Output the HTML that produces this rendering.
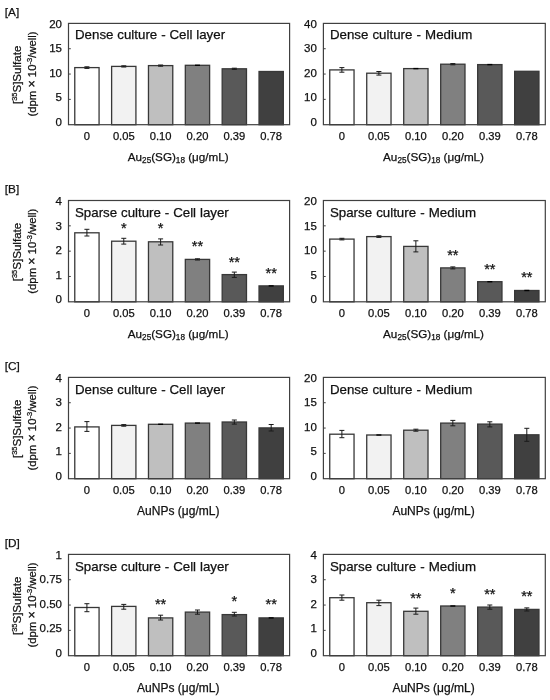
<!DOCTYPE html><html><head><meta charset="utf-8"><style>html,body{margin:0;padding:0;background:#fff;}svg{display:block;filter:grayscale(100%) blur(0.35px);} text{stroke:#111;stroke-width:0.25px;}</style></head><body>
<svg width="550" height="700" viewBox="0 0 550 700" font-family='"Liberation Sans", sans-serif'>
<rect width="550" height="700" fill="#fff"/>
<text x="4.8" y="15.5" font-size="11.8" fill="#111">[A]</text>
<g transform="translate(0,74.0) rotate(-90)">
<text x="-0.8" y="20.6" font-size="11.6" fill="#111" text-anchor="middle">[<tspan baseline-shift="4" font-size="7.4">35</tspan>S]Sulfate</text>
<text x="0" y="36.4" font-size="11.3" fill="#111" text-anchor="middle">(dpm <tspan font-size="12.5">×</tspan> 10<tspan baseline-shift="4" font-size="7.5">-3</tspan>/well)</text>
</g>
<text x="4.8" y="192.6" font-size="11.8" fill="#111">[B]</text>
<g transform="translate(0,251.2) rotate(-90)">
<text x="-0.8" y="20.6" font-size="11.6" fill="#111" text-anchor="middle">[<tspan baseline-shift="4" font-size="7.4">35</tspan>S]Sulfate</text>
<text x="0" y="36.4" font-size="11.3" fill="#111" text-anchor="middle">(dpm <tspan font-size="12.5">×</tspan> 10<tspan baseline-shift="4" font-size="7.5">-3</tspan>/well)</text>
</g>
<text x="4.8" y="369.5" font-size="11.8" fill="#111">[C]</text>
<g transform="translate(0,428.0) rotate(-90)">
<text x="-0.8" y="20.6" font-size="11.6" fill="#111" text-anchor="middle">[<tspan baseline-shift="4" font-size="7.4">35</tspan>S]Sulfate</text>
<text x="0" y="36.4" font-size="11.3" fill="#111" text-anchor="middle">(dpm <tspan font-size="12.5">×</tspan> 10<tspan baseline-shift="4" font-size="7.5">-3</tspan>/well)</text>
</g>
<text x="4.8" y="546.5" font-size="11.8" fill="#111">[D]</text>
<g transform="translate(0,605.0) rotate(-90)">
<text x="-0.8" y="20.6" font-size="11.6" fill="#111" text-anchor="middle">[<tspan baseline-shift="4" font-size="7.4">35</tspan>S]Sulfate</text>
<text x="0" y="36.4" font-size="11.3" fill="#111" text-anchor="middle">(dpm <tspan font-size="12.5">×</tspan> 10<tspan baseline-shift="4" font-size="7.5">-3</tspan>/well)</text>
</g>
<rect x="74.77" y="67.60" width="24.30" height="57.10" fill="#ffffff" stroke="#383838" stroke-width="1.3"/>
<path d="M86.92 66.80V68.40M84.42 66.80H89.42M84.42 68.40H89.42" stroke="#1a1a1a" stroke-width="1" fill="none"/>
<text x="86.92" y="140.3" font-size="11.2" fill="#111" text-anchor="middle">0</text>
<rect x="111.62" y="66.40" width="24.30" height="58.30" fill="#f2f2f2" stroke="#383838" stroke-width="1.3"/>
<path d="M123.78 65.80V67.00M121.28 65.80H126.28M121.28 67.00H126.28" stroke="#1a1a1a" stroke-width="1" fill="none"/>
<text x="123.78" y="140.3" font-size="11.2" fill="#111" text-anchor="middle">0.05</text>
<rect x="148.47" y="65.60" width="24.30" height="59.10" fill="#bfbfbf" stroke="#383838" stroke-width="1.3"/>
<path d="M160.62 65.00V66.20M158.12 65.00H163.12M158.12 66.20H163.12" stroke="#1a1a1a" stroke-width="1" fill="none"/>
<text x="160.62" y="140.3" font-size="11.2" fill="#111" text-anchor="middle">0.10</text>
<rect x="185.32" y="65.30" width="24.30" height="59.40" fill="#808080" stroke="#383838" stroke-width="1.3"/>
<path d="M194.97 65.30H199.97" stroke="#000" stroke-width="1.4" fill="none"/>
<text x="197.47" y="140.3" font-size="11.2" fill="#111" text-anchor="middle">0.20</text>
<rect x="222.18" y="68.80" width="24.30" height="55.90" fill="#595959" stroke="#383838" stroke-width="1.3"/>
<path d="M234.33 68.20V69.40M231.83 68.20H236.83M231.83 69.40H236.83" stroke="#1a1a1a" stroke-width="1" fill="none"/>
<text x="234.33" y="140.3" font-size="11.2" fill="#111" text-anchor="middle">0.39</text>
<rect x="259.03" y="71.50" width="24.30" height="53.20" fill="#404040" stroke="#383838" stroke-width="1.3"/>
<text x="271.18" y="140.3" font-size="11.2" fill="#111" text-anchor="middle">0.78</text>
<rect x="68.50" y="23.40" width="221.10" height="101.30" fill="none" stroke="#404040" stroke-width="1.2"/>
<text x="62.00" y="125.95" font-size="11.5" fill="#111" text-anchor="end">0</text>
<path d="M68.50 99.37H70.80" stroke="#404040" stroke-width="1"/>
<text x="62.00" y="101.45" font-size="11.5" fill="#111" text-anchor="end">5</text>
<path d="M68.50 74.05H70.80" stroke="#404040" stroke-width="1"/>
<text x="62.00" y="76.95" font-size="11.5" fill="#111" text-anchor="end">10</text>
<path d="M68.50 48.72H70.80" stroke="#404040" stroke-width="1"/>
<text x="62.00" y="52.45" font-size="11.5" fill="#111" text-anchor="end">15</text>
<text x="62.00" y="27.95" font-size="11.5" fill="#111" text-anchor="end">20</text>
<text x="75.00" y="39.15" word-spacing="0.2" font-size="13.3" fill="#111">Dense culture - Cell layer</text>
<text x="178.25" y="161.2" font-size="11.7" fill="#111" text-anchor="middle">Au<tspan baseline-shift="-2.2" font-size="8.2">25</tspan>(SG)<tspan baseline-shift="-2.2" font-size="8.2">18</tspan> (μg/mL)</text>
<rect x="329.74" y="69.90" width="24.30" height="54.80" fill="#ffffff" stroke="#383838" stroke-width="1.3"/>
<path d="M341.89 67.60V72.20M339.39 67.60H344.39M339.39 72.20H344.39" stroke="#1a1a1a" stroke-width="1" fill="none"/>
<text x="341.89" y="140.3" font-size="11.2" fill="#111" text-anchor="middle">0</text>
<rect x="366.73" y="73.20" width="24.30" height="51.50" fill="#f2f2f2" stroke="#383838" stroke-width="1.3"/>
<path d="M378.88 71.50V75.10M376.38 71.50H381.38M376.38 75.10H381.38" stroke="#1a1a1a" stroke-width="1" fill="none"/>
<text x="378.88" y="140.3" font-size="11.2" fill="#111" text-anchor="middle">0.05</text>
<rect x="403.71" y="68.60" width="24.30" height="56.10" fill="#bfbfbf" stroke="#383838" stroke-width="1.3"/>
<path d="M413.36 68.60H418.36" stroke="#000" stroke-width="1.4" fill="none"/>
<text x="415.86" y="140.3" font-size="11.2" fill="#111" text-anchor="middle">0.10</text>
<rect x="440.69" y="64.20" width="24.30" height="60.50" fill="#808080" stroke="#383838" stroke-width="1.3"/>
<path d="M452.84 63.60V64.80M450.34 63.60H455.34M450.34 64.80H455.34" stroke="#1a1a1a" stroke-width="1" fill="none"/>
<text x="452.84" y="140.3" font-size="11.2" fill="#111" text-anchor="middle">0.20</text>
<rect x="477.67" y="64.60" width="24.30" height="60.10" fill="#595959" stroke="#383838" stroke-width="1.3"/>
<path d="M487.32 64.60H492.32" stroke="#000" stroke-width="1.4" fill="none"/>
<text x="489.82" y="140.3" font-size="11.2" fill="#111" text-anchor="middle">0.39</text>
<rect x="514.66" y="71.30" width="24.30" height="53.40" fill="#404040" stroke="#383838" stroke-width="1.3"/>
<text x="526.81" y="140.3" font-size="11.2" fill="#111" text-anchor="middle">0.78</text>
<rect x="323.40" y="23.40" width="221.90" height="101.30" fill="none" stroke="#404040" stroke-width="1.2"/>
<text x="316.90" y="125.95" font-size="11.5" fill="#111" text-anchor="end">0</text>
<path d="M323.40 99.37H325.70" stroke="#404040" stroke-width="1"/>
<text x="316.90" y="101.45" font-size="11.5" fill="#111" text-anchor="end">10</text>
<path d="M323.40 74.05H325.70" stroke="#404040" stroke-width="1"/>
<text x="316.90" y="76.95" font-size="11.5" fill="#111" text-anchor="end">20</text>
<path d="M323.40 48.72H325.70" stroke="#404040" stroke-width="1"/>
<text x="316.90" y="52.45" font-size="11.5" fill="#111" text-anchor="end">30</text>
<text x="316.90" y="27.95" font-size="11.5" fill="#111" text-anchor="end">40</text>
<text x="329.90" y="39.15" word-spacing="0.45" font-size="13.3" fill="#111">Dense culture - Medium</text>
<text x="433.55" y="161.2" font-size="11.7" fill="#111" text-anchor="middle">Au<tspan baseline-shift="-2.2" font-size="8.2">25</tspan>(SG)<tspan baseline-shift="-2.2" font-size="8.2">18</tspan> (μg/mL)</text>
<rect x="74.77" y="232.80" width="24.30" height="69.00" fill="#ffffff" stroke="#383838" stroke-width="1.3"/>
<path d="M86.92 229.30V236.00M84.42 229.30H89.42M84.42 236.00H89.42" stroke="#1a1a1a" stroke-width="1" fill="none"/>
<text x="86.92" y="317.4" font-size="11.2" fill="#111" text-anchor="middle">0</text>
<rect x="111.62" y="241.20" width="24.30" height="60.60" fill="#f2f2f2" stroke="#383838" stroke-width="1.3"/>
<path d="M123.78 238.30V244.10M121.28 238.30H126.28M121.28 244.10H126.28" stroke="#1a1a1a" stroke-width="1" fill="none"/>
<text x="123.78" y="317.4" font-size="11.2" fill="#111" text-anchor="middle">0.05</text>
<text x="123.78" y="233.4" font-size="14.6" fill="#111" text-anchor="middle">*</text>
<rect x="148.47" y="241.80" width="24.30" height="60.00" fill="#bfbfbf" stroke="#383838" stroke-width="1.3"/>
<path d="M160.62 238.90V245.00M158.12 238.90H163.12M158.12 245.00H163.12" stroke="#1a1a1a" stroke-width="1" fill="none"/>
<text x="160.62" y="317.4" font-size="11.2" fill="#111" text-anchor="middle">0.10</text>
<text x="160.62" y="233.4" font-size="14.6" fill="#111" text-anchor="middle">*</text>
<rect x="185.32" y="259.40" width="24.30" height="42.40" fill="#808080" stroke="#383838" stroke-width="1.3"/>
<path d="M197.47 258.80V260.00M194.97 258.80H199.97M194.97 260.00H199.97" stroke="#1a1a1a" stroke-width="1" fill="none"/>
<text x="197.47" y="317.4" font-size="11.2" fill="#111" text-anchor="middle">0.20</text>
<text x="197.47" y="251.4" font-size="14.6" fill="#111" text-anchor="middle">**</text>
<rect x="222.18" y="274.60" width="24.30" height="27.20" fill="#595959" stroke="#383838" stroke-width="1.3"/>
<path d="M234.33 272.10V277.40M231.83 272.10H236.83M231.83 277.40H236.83" stroke="#1a1a1a" stroke-width="1" fill="none"/>
<text x="234.33" y="317.4" font-size="11.2" fill="#111" text-anchor="middle">0.39</text>
<text x="234.33" y="266.5" font-size="14.6" fill="#111" text-anchor="middle">**</text>
<rect x="259.03" y="285.90" width="24.30" height="15.90" fill="#404040" stroke="#383838" stroke-width="1.3"/>
<path d="M268.68 285.90H273.68" stroke="#000" stroke-width="1.4" fill="none"/>
<text x="271.18" y="317.4" font-size="11.2" fill="#111" text-anchor="middle">0.78</text>
<text x="271.18" y="278.1" font-size="14.6" fill="#111" text-anchor="middle">**</text>
<rect x="68.50" y="200.50" width="221.10" height="101.30" fill="none" stroke="#404040" stroke-width="1.2"/>
<text x="62.00" y="303.05" font-size="11.5" fill="#111" text-anchor="end">0</text>
<path d="M68.50 276.48H70.80" stroke="#404040" stroke-width="1"/>
<text x="62.00" y="278.55" font-size="11.5" fill="#111" text-anchor="end">1</text>
<path d="M68.50 251.15H70.80" stroke="#404040" stroke-width="1"/>
<text x="62.00" y="254.05" font-size="11.5" fill="#111" text-anchor="end">2</text>
<path d="M68.50 225.83H70.80" stroke="#404040" stroke-width="1"/>
<text x="62.00" y="229.55" font-size="11.5" fill="#111" text-anchor="end">3</text>
<text x="62.00" y="205.05" font-size="11.5" fill="#111" text-anchor="end">4</text>
<text x="75.00" y="216.50" word-spacing="0.2" font-size="13.3" fill="#111">Sparse culture - Cell layer</text>
<text x="178.25" y="338.3" font-size="11.7" fill="#111" text-anchor="middle">Au<tspan baseline-shift="-2.2" font-size="8.2">25</tspan>(SG)<tspan baseline-shift="-2.2" font-size="8.2">18</tspan> (μg/mL)</text>
<rect x="329.74" y="239.10" width="24.30" height="62.70" fill="#ffffff" stroke="#383838" stroke-width="1.3"/>
<path d="M341.89 238.30V239.90M339.39 238.30H344.39M339.39 239.90H344.39" stroke="#1a1a1a" stroke-width="1" fill="none"/>
<text x="341.89" y="317.4" font-size="11.2" fill="#111" text-anchor="middle">0</text>
<rect x="366.73" y="236.60" width="24.30" height="65.20" fill="#f2f2f2" stroke="#383838" stroke-width="1.3"/>
<path d="M378.88 235.80V237.40M376.38 235.80H381.38M376.38 237.40H381.38" stroke="#1a1a1a" stroke-width="1" fill="none"/>
<text x="378.88" y="317.4" font-size="11.2" fill="#111" text-anchor="middle">0.05</text>
<rect x="403.71" y="246.40" width="24.30" height="55.40" fill="#bfbfbf" stroke="#383838" stroke-width="1.3"/>
<path d="M415.86 240.80V251.90M413.36 240.80H418.36M413.36 251.90H418.36" stroke="#1a1a1a" stroke-width="1" fill="none"/>
<text x="415.86" y="317.4" font-size="11.2" fill="#111" text-anchor="middle">0.10</text>
<rect x="440.69" y="267.90" width="24.30" height="33.90" fill="#808080" stroke="#383838" stroke-width="1.3"/>
<path d="M452.84 266.90V268.90M450.34 266.90H455.34M450.34 268.90H455.34" stroke="#1a1a1a" stroke-width="1" fill="none"/>
<text x="452.84" y="317.4" font-size="11.2" fill="#111" text-anchor="middle">0.20</text>
<text x="452.84" y="259.6" font-size="14.6" fill="#111" text-anchor="middle">**</text>
<rect x="477.67" y="281.70" width="24.30" height="20.10" fill="#595959" stroke="#383838" stroke-width="1.3"/>
<path d="M487.32 281.70H492.32" stroke="#000" stroke-width="1.4" fill="none"/>
<text x="489.82" y="317.4" font-size="11.2" fill="#111" text-anchor="middle">0.39</text>
<text x="489.82" y="273.7" font-size="14.6" fill="#111" text-anchor="middle">**</text>
<rect x="514.66" y="290.50" width="24.30" height="11.30" fill="#404040" stroke="#383838" stroke-width="1.3"/>
<path d="M524.31 290.50H529.31" stroke="#000" stroke-width="1.4" fill="none"/>
<text x="526.81" y="317.4" font-size="11.2" fill="#111" text-anchor="middle">0.78</text>
<text x="526.81" y="282.0" font-size="14.6" fill="#111" text-anchor="middle">**</text>
<rect x="323.40" y="200.50" width="221.90" height="101.30" fill="none" stroke="#404040" stroke-width="1.2"/>
<text x="316.90" y="303.05" font-size="11.5" fill="#111" text-anchor="end">0</text>
<path d="M323.40 276.48H325.70" stroke="#404040" stroke-width="1"/>
<text x="316.90" y="278.55" font-size="11.5" fill="#111" text-anchor="end">5</text>
<path d="M323.40 251.15H325.70" stroke="#404040" stroke-width="1"/>
<text x="316.90" y="254.05" font-size="11.5" fill="#111" text-anchor="end">10</text>
<path d="M323.40 225.83H325.70" stroke="#404040" stroke-width="1"/>
<text x="316.90" y="229.55" font-size="11.5" fill="#111" text-anchor="end">15</text>
<text x="316.90" y="205.05" font-size="11.5" fill="#111" text-anchor="end">20</text>
<text x="329.90" y="216.50" word-spacing="0.45" font-size="13.3" fill="#111">Sparse culture - Medium</text>
<text x="433.55" y="338.3" font-size="11.7" fill="#111" text-anchor="middle">Au<tspan baseline-shift="-2.2" font-size="8.2">25</tspan>(SG)<tspan baseline-shift="-2.2" font-size="8.2">18</tspan> (μg/mL)</text>
<rect x="74.77" y="426.90" width="24.30" height="51.80" fill="#ffffff" stroke="#383838" stroke-width="1.3"/>
<path d="M86.92 421.60V431.40M84.42 421.60H89.42M84.42 431.40H89.42" stroke="#1a1a1a" stroke-width="1" fill="none"/>
<text x="86.92" y="494.3" font-size="11.2" fill="#111" text-anchor="middle">0</text>
<rect x="111.62" y="425.40" width="24.30" height="53.30" fill="#f2f2f2" stroke="#383838" stroke-width="1.3"/>
<path d="M123.78 424.60V426.20M121.28 424.60H126.28M121.28 426.20H126.28" stroke="#1a1a1a" stroke-width="1" fill="none"/>
<text x="123.78" y="494.3" font-size="11.2" fill="#111" text-anchor="middle">0.05</text>
<rect x="148.47" y="424.30" width="24.30" height="54.40" fill="#bfbfbf" stroke="#383838" stroke-width="1.3"/>
<path d="M158.12 424.30H163.12" stroke="#000" stroke-width="1.4" fill="none"/>
<text x="160.62" y="494.3" font-size="11.2" fill="#111" text-anchor="middle">0.10</text>
<rect x="185.32" y="423.10" width="24.30" height="55.60" fill="#808080" stroke="#383838" stroke-width="1.3"/>
<path d="M194.97 423.10H199.97" stroke="#000" stroke-width="1.4" fill="none"/>
<text x="197.47" y="494.3" font-size="11.2" fill="#111" text-anchor="middle">0.20</text>
<rect x="222.18" y="422.00" width="24.30" height="56.70" fill="#595959" stroke="#383838" stroke-width="1.3"/>
<path d="M234.33 420.00V424.10M231.83 420.00H236.83M231.83 424.10H236.83" stroke="#1a1a1a" stroke-width="1" fill="none"/>
<text x="234.33" y="494.3" font-size="11.2" fill="#111" text-anchor="middle">0.39</text>
<rect x="259.03" y="427.90" width="24.30" height="50.80" fill="#404040" stroke="#383838" stroke-width="1.3"/>
<path d="M271.18 424.50V431.00M268.68 424.50H273.68M268.68 431.00H273.68" stroke="#1a1a1a" stroke-width="1" fill="none"/>
<text x="271.18" y="494.3" font-size="11.2" fill="#111" text-anchor="middle">0.78</text>
<rect x="68.50" y="377.40" width="221.10" height="101.30" fill="none" stroke="#404040" stroke-width="1.2"/>
<text x="62.00" y="479.95" font-size="11.5" fill="#111" text-anchor="end">0</text>
<path d="M68.50 453.38H70.80" stroke="#404040" stroke-width="1"/>
<text x="62.00" y="455.45" font-size="11.5" fill="#111" text-anchor="end">1</text>
<path d="M68.50 428.05H70.80" stroke="#404040" stroke-width="1"/>
<text x="62.00" y="430.95" font-size="11.5" fill="#111" text-anchor="end">2</text>
<path d="M68.50 402.73H70.80" stroke="#404040" stroke-width="1"/>
<text x="62.00" y="406.45" font-size="11.5" fill="#111" text-anchor="end">3</text>
<text x="62.00" y="381.95" font-size="11.5" fill="#111" text-anchor="end">4</text>
<text x="75.00" y="393.60" word-spacing="0.2" font-size="13.3" fill="#111">Dense culture - Cell layer</text>
<text x="178.25" y="515.2" font-size="12.0" fill="#111" text-anchor="middle">AuNPs (μg/mL)</text>
<rect x="329.74" y="434.20" width="24.30" height="44.50" fill="#ffffff" stroke="#383838" stroke-width="1.3"/>
<path d="M341.89 430.40V437.70M339.39 430.40H344.39M339.39 437.70H344.39" stroke="#1a1a1a" stroke-width="1" fill="none"/>
<text x="341.89" y="494.3" font-size="11.2" fill="#111" text-anchor="middle">0</text>
<rect x="366.73" y="435.00" width="24.30" height="43.70" fill="#f2f2f2" stroke="#383838" stroke-width="1.3"/>
<path d="M376.38 435.00H381.38" stroke="#000" stroke-width="1.4" fill="none"/>
<text x="378.88" y="494.3" font-size="11.2" fill="#111" text-anchor="middle">0.05</text>
<rect x="403.71" y="430.20" width="24.30" height="48.50" fill="#bfbfbf" stroke="#383838" stroke-width="1.3"/>
<path d="M415.86 429.20V431.20M413.36 429.20H418.36M413.36 431.20H418.36" stroke="#1a1a1a" stroke-width="1" fill="none"/>
<text x="415.86" y="494.3" font-size="11.2" fill="#111" text-anchor="middle">0.10</text>
<rect x="440.69" y="423.10" width="24.30" height="55.60" fill="#808080" stroke="#383838" stroke-width="1.3"/>
<path d="M452.84 420.40V425.80M450.34 420.40H455.34M450.34 425.80H455.34" stroke="#1a1a1a" stroke-width="1" fill="none"/>
<text x="452.84" y="494.3" font-size="11.2" fill="#111" text-anchor="middle">0.20</text>
<rect x="477.67" y="424.10" width="24.30" height="54.60" fill="#595959" stroke="#383838" stroke-width="1.3"/>
<path d="M489.82 421.80V426.90M487.32 421.80H492.32M487.32 426.90H492.32" stroke="#1a1a1a" stroke-width="1" fill="none"/>
<text x="489.82" y="494.3" font-size="11.2" fill="#111" text-anchor="middle">0.39</text>
<rect x="514.66" y="434.80" width="24.30" height="43.90" fill="#404040" stroke="#383838" stroke-width="1.3"/>
<path d="M526.81 428.30V441.30M524.31 428.30H529.31M524.31 441.30H529.31" stroke="#1a1a1a" stroke-width="1" fill="none"/>
<text x="526.81" y="494.3" font-size="11.2" fill="#111" text-anchor="middle">0.78</text>
<rect x="323.40" y="377.40" width="221.90" height="101.30" fill="none" stroke="#404040" stroke-width="1.2"/>
<text x="316.90" y="479.95" font-size="11.5" fill="#111" text-anchor="end">0</text>
<path d="M323.40 453.38H325.70" stroke="#404040" stroke-width="1"/>
<text x="316.90" y="455.45" font-size="11.5" fill="#111" text-anchor="end">5</text>
<path d="M323.40 428.05H325.70" stroke="#404040" stroke-width="1"/>
<text x="316.90" y="430.95" font-size="11.5" fill="#111" text-anchor="end">10</text>
<path d="M323.40 402.73H325.70" stroke="#404040" stroke-width="1"/>
<text x="316.90" y="406.45" font-size="11.5" fill="#111" text-anchor="end">15</text>
<text x="316.90" y="381.95" font-size="11.5" fill="#111" text-anchor="end">20</text>
<text x="329.90" y="393.60" word-spacing="0.45" font-size="13.3" fill="#111">Dense culture - Medium</text>
<text x="433.55" y="515.2" font-size="12.0" fill="#111" text-anchor="middle">AuNPs (μg/mL)</text>
<rect x="74.77" y="607.50" width="24.30" height="48.20" fill="#ffffff" stroke="#383838" stroke-width="1.3"/>
<path d="M86.92 603.70V611.70M84.42 603.70H89.42M84.42 611.70H89.42" stroke="#1a1a1a" stroke-width="1" fill="none"/>
<text x="86.92" y="671.3" font-size="11.2" fill="#111" text-anchor="middle">0</text>
<rect x="111.62" y="606.40" width="24.30" height="49.30" fill="#f2f2f2" stroke="#383838" stroke-width="1.3"/>
<path d="M123.78 604.40V609.20M121.28 604.40H126.28M121.28 609.20H126.28" stroke="#1a1a1a" stroke-width="1" fill="none"/>
<text x="123.78" y="671.3" font-size="11.2" fill="#111" text-anchor="middle">0.05</text>
<rect x="148.47" y="617.90" width="24.30" height="37.80" fill="#bfbfbf" stroke="#383838" stroke-width="1.3"/>
<path d="M160.62 615.20V620.00M158.12 615.20H163.12M158.12 620.00H163.12" stroke="#1a1a1a" stroke-width="1" fill="none"/>
<text x="160.62" y="671.3" font-size="11.2" fill="#111" text-anchor="middle">0.10</text>
<text x="160.62" y="609.3" font-size="14.6" fill="#111" text-anchor="middle">**</text>
<rect x="185.32" y="612.10" width="24.30" height="43.60" fill="#808080" stroke="#383838" stroke-width="1.3"/>
<path d="M197.47 610.00V614.20M194.97 610.00H199.97M194.97 614.20H199.97" stroke="#1a1a1a" stroke-width="1" fill="none"/>
<text x="197.47" y="671.3" font-size="11.2" fill="#111" text-anchor="middle">0.20</text>
<rect x="222.18" y="614.60" width="24.30" height="41.10" fill="#595959" stroke="#383838" stroke-width="1.3"/>
<path d="M234.33 612.30V616.00M231.83 612.30H236.83M231.83 616.00H236.83" stroke="#1a1a1a" stroke-width="1" fill="none"/>
<text x="234.33" y="671.3" font-size="11.2" fill="#111" text-anchor="middle">0.39</text>
<text x="234.33" y="605.9" font-size="14.6" fill="#111" text-anchor="middle">*</text>
<rect x="259.03" y="617.90" width="24.30" height="37.80" fill="#404040" stroke="#383838" stroke-width="1.3"/>
<path d="M268.68 617.90H273.68" stroke="#000" stroke-width="1.4" fill="none"/>
<text x="271.18" y="671.3" font-size="11.2" fill="#111" text-anchor="middle">0.78</text>
<text x="271.18" y="609.4" font-size="14.6" fill="#111" text-anchor="middle">**</text>
<rect x="68.50" y="554.40" width="221.10" height="101.30" fill="none" stroke="#404040" stroke-width="1.2"/>
<text x="62.00" y="656.95" font-size="11.5" fill="#111" text-anchor="end">0</text>
<path d="M68.50 630.37H70.80" stroke="#404040" stroke-width="1"/>
<text x="62.00" y="632.45" font-size="11.5" fill="#111" text-anchor="end">0.25</text>
<path d="M68.50 605.05H70.80" stroke="#404040" stroke-width="1"/>
<text x="62.00" y="607.95" font-size="11.5" fill="#111" text-anchor="end">0.50</text>
<path d="M68.50 579.72H70.80" stroke="#404040" stroke-width="1"/>
<text x="62.00" y="583.45" font-size="11.5" fill="#111" text-anchor="end">0.75</text>
<text x="62.00" y="558.95" font-size="11.5" fill="#111" text-anchor="end">1</text>
<text x="75.00" y="571.20" word-spacing="0.2" font-size="13.3" fill="#111">Sparse culture - Cell layer</text>
<text x="178.25" y="692.2" font-size="12.0" fill="#111" text-anchor="middle">AuNPs (μg/mL)</text>
<rect x="329.74" y="597.70" width="24.30" height="58.00" fill="#ffffff" stroke="#383838" stroke-width="1.3"/>
<path d="M341.89 595.00V600.20M339.39 595.00H344.39M339.39 600.20H344.39" stroke="#1a1a1a" stroke-width="1" fill="none"/>
<text x="341.89" y="671.3" font-size="11.2" fill="#111" text-anchor="middle">0</text>
<rect x="366.73" y="602.70" width="24.30" height="53.00" fill="#f2f2f2" stroke="#383838" stroke-width="1.3"/>
<path d="M378.88 600.20V605.60M376.38 600.20H381.38M376.38 605.60H381.38" stroke="#1a1a1a" stroke-width="1" fill="none"/>
<text x="378.88" y="671.3" font-size="11.2" fill="#111" text-anchor="middle">0.05</text>
<rect x="403.71" y="611.30" width="24.30" height="44.40" fill="#bfbfbf" stroke="#383838" stroke-width="1.3"/>
<path d="M415.86 608.10V614.20M413.36 608.10H418.36M413.36 614.20H418.36" stroke="#1a1a1a" stroke-width="1" fill="none"/>
<text x="415.86" y="671.3" font-size="11.2" fill="#111" text-anchor="middle">0.10</text>
<text x="415.86" y="603.1" font-size="14.6" fill="#111" text-anchor="middle">**</text>
<rect x="440.69" y="606.00" width="24.30" height="49.70" fill="#808080" stroke="#383838" stroke-width="1.3"/>
<path d="M450.34 606.00H455.34" stroke="#000" stroke-width="1.4" fill="none"/>
<text x="452.84" y="671.3" font-size="11.2" fill="#111" text-anchor="middle">0.20</text>
<text x="452.84" y="597.9" font-size="14.6" fill="#111" text-anchor="middle">*</text>
<rect x="477.67" y="607.10" width="24.30" height="48.60" fill="#595959" stroke="#383838" stroke-width="1.3"/>
<path d="M489.82 605.00V609.20M487.32 605.00H492.32M487.32 609.20H492.32" stroke="#1a1a1a" stroke-width="1" fill="none"/>
<text x="489.82" y="671.3" font-size="11.2" fill="#111" text-anchor="middle">0.39</text>
<text x="489.82" y="598.8" font-size="14.6" fill="#111" text-anchor="middle">**</text>
<rect x="514.66" y="609.40" width="24.30" height="46.30" fill="#404040" stroke="#383838" stroke-width="1.3"/>
<path d="M526.81 607.90V611.00M524.31 607.90H529.31M524.31 611.00H529.31" stroke="#1a1a1a" stroke-width="1" fill="none"/>
<text x="526.81" y="671.3" font-size="11.2" fill="#111" text-anchor="middle">0.78</text>
<text x="526.81" y="601.1" font-size="14.6" fill="#111" text-anchor="middle">**</text>
<rect x="323.40" y="554.40" width="221.90" height="101.30" fill="none" stroke="#404040" stroke-width="1.2"/>
<text x="316.90" y="656.95" font-size="11.5" fill="#111" text-anchor="end">0</text>
<path d="M323.40 630.37H325.70" stroke="#404040" stroke-width="1"/>
<text x="316.90" y="632.45" font-size="11.5" fill="#111" text-anchor="end">1</text>
<path d="M323.40 605.05H325.70" stroke="#404040" stroke-width="1"/>
<text x="316.90" y="607.95" font-size="11.5" fill="#111" text-anchor="end">2</text>
<path d="M323.40 579.72H325.70" stroke="#404040" stroke-width="1"/>
<text x="316.90" y="583.45" font-size="11.5" fill="#111" text-anchor="end">3</text>
<text x="316.90" y="558.95" font-size="11.5" fill="#111" text-anchor="end">4</text>
<text x="329.90" y="571.20" word-spacing="0.45" font-size="13.3" fill="#111">Sparse culture - Medium</text>
<text x="433.55" y="692.2" font-size="12.0" fill="#111" text-anchor="middle">AuNPs (μg/mL)</text>
</svg></body></html>
